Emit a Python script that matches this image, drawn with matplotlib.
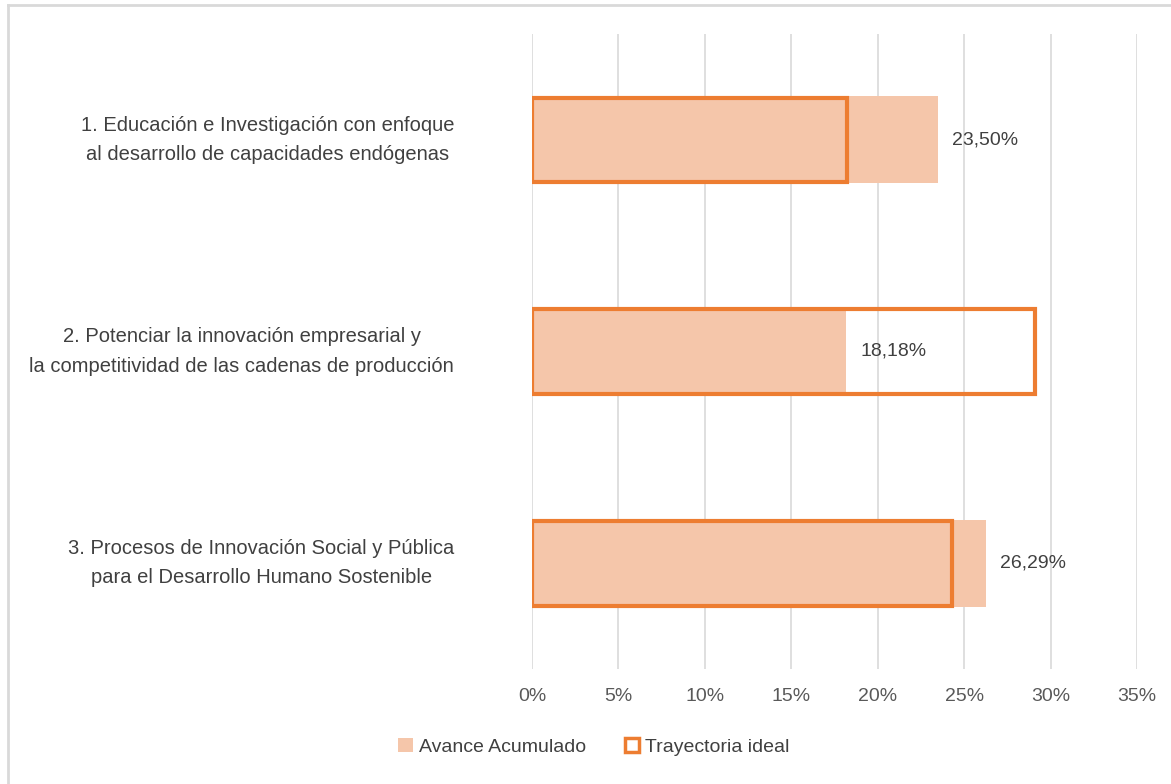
import matplotlib.pyplot as plt
from matplotlib.patches import Rectangle
from matplotlib.lines import Line2D

categories = ["1. Educación e Investigación con enfoque\nal desarrollo de capacidades endógenas",
              "2. Potenciar la innovación empresarial y\nla competitividad de las cadenas de producción",
              "3. Procesos de Innovación Social y Pública\npara el Desarrollo Humano Sostenible"]
avance = [23.50, 18.18, 26.29]
ideal = [18.2, 29.1, 24.3]
avance_labels = ["23,50%", "18,18%", "26,29%"]
xticks = [0, 5, 10, 15, 20, 25, 30, 35]

plt.rcParams['font.family'] = ['Liberation Sans Narrow', 'Liberation Sans', 'DejaVu Sans']

fill_col = '#F5C6AA'
edge_col = '#ED7D31'
text_col = '#404040'

fig = plt.figure(figsize=(11.71, 7.84), dpi=100)
W, H = 1171, 784
ax = fig.add_axes([532 / W, 1 - 669 / H, (1137 - 532) / W, (669 - 34) / H])

y = list(range(len(categories)))
ax.barh(y, avance, height=0.41, color=fill_col, zorder=2)
ax.barh(y, ideal, height=0.40, facecolor='none', edgecolor=edge_col, linewidth=3, zorder=3)

for yi, v, lab in zip(y, avance, avance_labels):
    ax.annotate(lab, (v, yi), xytext=(10, 0), textcoords='offset points',
                ha='left', va='center', fontsize=14, color=text_col)

ax.set_xlim(0, 35)
ax.set_ylim(2.5, -0.5)
ax.set_xticks(xticks)
ax.set_xticklabels([f"{t}%" for t in xticks], fontsize=14, color='#595959')
ax.set_yticks([])
ax.tick_params(axis='x', length=0, pad=14)
ax.grid(axis='x', color='#D9D9D9', linewidth=1.2, zorder=0)
ax.set_axisbelow(True)
for s in ax.spines.values():
    s.set_visible(False)

for yi, c in zip(y, categories):
    ax.text(-4.5, yi, c, ha='right', va='center', multialignment='center',
            fontsize=14.5, color=text_col, linespacing=1.7,
            transform=ax.transData)

handles = [Rectangle((0, 0), 1, 1, facecolor=fill_col, edgecolor='none'),
           Rectangle((0, 0), 1, 1, facecolor='white', edgecolor=edge_col, linewidth=2.5)]
fig.legend(handles, ["Avance Acumulado", "Trayectoria ideal"], loc='center',
           bbox_to_anchor=(594 / W, 1 - 747 / H), ncol=2, frameon=False,
           fontsize=14, handlelength=0.75, handleheight=0.75, handletextpad=0.3,
           columnspacing=2.0, labelcolor=text_col)

# light gray frame around the chart
fig.add_artist(Line2D([8 / W, 8 / W], [0, 1 - 5 / H], color='#D9D9D9', linewidth=2,
                      transform=fig.transFigure))
fig.add_artist(Line2D([8 / W, 1], [1 - 5 / H, 1 - 5 / H], color='#D9D9D9', linewidth=2,
                      transform=fig.transFigure))

fig.savefig('out.png', dpi=100, facecolor='white')
